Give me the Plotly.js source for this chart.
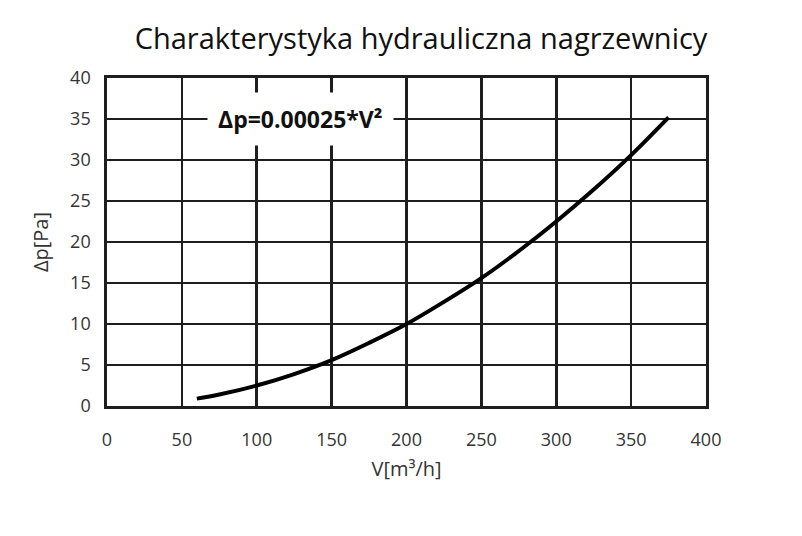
<!DOCTYPE html>
<html>
<head>
<meta charset="utf-8">
<script src="https://cdn.plot.ly/plotly-3.0.1.min.js"></script>
<style>html,body{margin:0;padding:0;background:#fff;}#chart{width:802px;height:536px;}</style>
</head>
<body>
<div id="chart"></div>
<script>
const flowV = [60, 75, 100, 125, 150, 175, 200, 225, 250, 275, 300, 325, 350, 375];
const pressureDrop = [0.9, 1.4, 2.5, 3.9, 5.6, 7.7, 10.0, 12.7, 15.6, 18.9, 22.5, 26.4, 30.6, 35.2];
const xTicks = [0, 50, 100, 150, 200, 250, 300, 350, 400];
const yTicks = [0, 5, 10, 15, 20, 25, 30, 35, 40];
const titleText = 'Charakterystyka hydrauliczna nagrzewnicy';
const xTitle = 'V[m³/h]';
const yTitle = 'Δp[Pa]';
const formulaText = 'Δp=0.00025*V²';

const font = '"Open Sans", "DejaVu Sans", sans-serif';
const gridCol = '#1e1e1e';

Plotly.newPlot('chart', [{
  x: flowV, y: pressureDrop, mode: 'lines', type: 'scatter',
  line: {color: '#000', width: 4, shape: 'spline'}, hoverinfo: 'skip'
}], {
  width: 802, height: 536,
  margin: {l: 107, r: 96, t: 78, b: 130},
  paper_bgcolor: '#fff', plot_bgcolor: '#fff',
  showlegend: false,
  font: {family: font, color: '#333'},
  title: {text: titleText, font: {family: font, size: 29, color: '#111'}, x: 0.525, xanchor: 'center', y: 0.928, yanchor: 'middle'},
  xaxis: {
    range: [0, 400], tickvals: xTicks, ticktext: xTicks.map(String),
    showgrid: true, gridcolor: gridCol, gridwidth: 2.7,
    showline: true, linecolor: gridCol, linewidth: 2.7, mirror: true,
    zeroline: false, ticks: '', ticklabelstandoff: 16,
    tickfont: {size: 18, color: '#333', family: font},
    title: {text: xTitle, font: {size: 20, color: '#333', family: font}, standoff: 12}
  },
  yaxis: {
    range: [0, 40], tickvals: yTicks, ticktext: yTicks.map(String),
    showgrid: true, gridcolor: gridCol, gridwidth: 2.7,
    showline: true, linecolor: gridCol, linewidth: 2.7, mirror: true,
    zeroline: false, ticks: '', ticklabelstandoff: 10,
    tickfont: {size: 18, color: '#333', family: font},
    title: {text: yTitle, font: {size: 20, color: '#333', family: font}, standoff: 16}
  },
  annotations: [{
    x: 129, y: 35, xref: 'x', yref: 'y', text: formulaText, showarrow: false,
    font: {family: font, size: 23, color: '#111', weight: 'bold'},
    bgcolor: '#fff', borderpad: 10, xanchor: 'center', yanchor: 'middle'
  }]
}, {displayModeBar: false, staticPlot: true});
</script>
</body>
</html>
